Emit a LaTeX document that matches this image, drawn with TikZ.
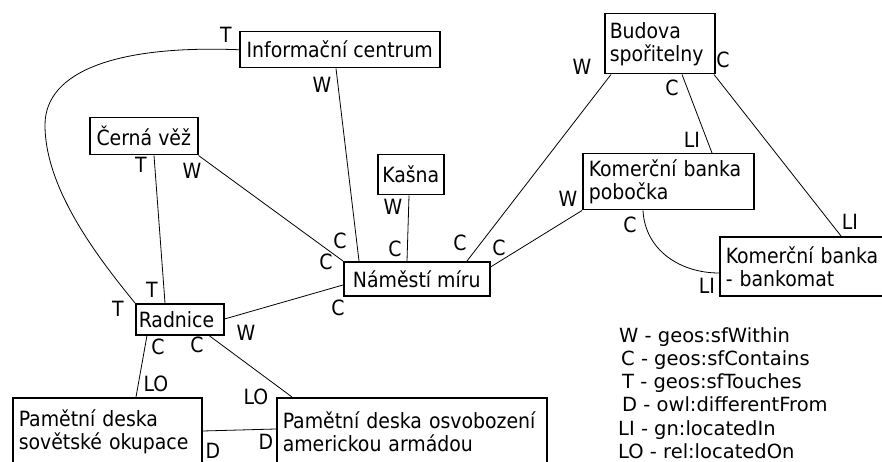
\documentclass[tikz,border=0pt]{standalone}
\usepackage{fontspec}
\setmainfont{DejaVu Sans Condensed}
\newfontfamily\keyfont{DejaVu Sans}
\begin{document}
\begin{tikzpicture}[x=1pt,y=-1pt,
  every node/.style={font=\fontsize{21}{23}\selectfont},
  box/.style={draw, line width=1.5pt, rectangle, anchor=north west, inner xsep=6pt, inner ysep=0pt},
  mbox/.style={box, align=left},
  lbl/.style={inner sep=0pt},
  legend/.style={inner sep=0pt, anchor=base west, font=\keyfont\fontsize{19.5}{23}\selectfont},
  link/.style={line width=0.8pt}]
\useasboundingbox (0,0) rectangle (882,462);

% places and objects
\node[box, minimum width=200pt, minimum height=36pt] (info) at (239,31) {Informační centrum};
\node[box, minimum width=108pt, minimum height=37pt] (cerna) at (89,117) {Černá věž};
\node[box, minimum width=66pt, minimum height=40pt, inner xsep=2pt] (kasna) at (377,154) {Kašna};
\node[box, minimum width=146pt, minimum height=34pt] (namesti) at (343,261) {Náměstí míru};
\node[mbox, text width=82pt, inner xsep=3pt, minimum height=31pt] (radnice) at (135,303) {Radnice};
\node[mbox, text width=177pt, minimum height=68pt] (sovet) at (12,397) {Pamětní deska\\sovětské okupace};
\node[mbox, text width=258pt, minimum height=68pt] (osvob) at (276,397) {Pamětní deska osvobození\\americkou armádou};
\node[mbox, text width=100pt, inner xsep=5pt, minimum height=60pt] (budova) at (604,13) {Budova\\spořitelny};
\node[mbox, text width=159pt, minimum height=56pt] (pobocka) at (582,153) {Komerční banka\\pobočka};
\node[mbox, text width=153pt, minimum height=59pt] (bankomat) at (719,236) {Komerční banka\\- bankomat};

% relations
\draw[link] ([xshift=97pt]info.south west) -- ([xshift=16pt]namesti.north west);
\draw[link] (cerna.south east) -- (namesti.north west);
\draw[link] ([xshift=65pt]cerna.south west) -- ([xshift=30pt]radnice.north west);
\draw[link] ([xshift=32pt]kasna.south west) -- ([xshift=64pt]namesti.north west);
\draw[link] ([xshift=124pt]namesti.north west) -- ([xshift=7pt]budova.south west);
\draw[link] ([yshift=-6pt]namesti.north east) -- (pobocka.south west);
\draw[link] ([yshift=-24pt]namesti.north west) -- ([yshift=-16pt]radnice.north east);
\draw[link] (info.west) .. controls (120,45) and (45,70) .. (45,125)
  .. controls (45,190) and (100,260) .. (radnice.north west);
\draw[link] ([xshift=12pt]radnice.south west) -- ([xshift=124pt]sovet.north west);
\draw[link] ([xshift=74pt]radnice.south west) -- ([xshift=16pt]osvob.north west);
\draw[link] ([yshift=-34pt]sovet.north east) -- ([yshift=-32pt]osvob.north west);
\draw[link] ([xshift=78pt]budova.south west) -- ([xshift=130pt]pobocka.north west);
\draw[link] ([xshift=110pt]budova.south west) -- ([xshift=122pt]bankomat.north west);
\draw[link] ([xshift=61pt]pobocka.south west) .. controls (645,250) and (680,273) .. ([yshift=-37pt]bankomat.north west);

% relation labels
\node[lbl] (l1) at (226,35) {T};
\node[lbl] (l2) at (322,85) {W};
\node[lbl] (l3) at (141,165) {T};
\node[lbl] (l4) at (192,171) {W};
\node[lbl] (l5) at (393,207) {W};
\node[lbl] (l6) at (340,241) {C};
\node[lbl] (l7) at (326,262) {C};
\node[lbl] (l8) at (395,249) {C};
\node[lbl] (l9) at (460,243) {C};
\node[lbl] (l10) at (499,248) {C};
\node[lbl] (l11) at (338,308) {C};
\node[lbl] (l12) at (152,290) {T};
\node[lbl] (l13) at (118,309) {T};
\node[lbl] (l14) at (246,333) {W};
\node[lbl] (l15) at (158,347) {C};
\node[lbl] (l16) at (197,345) {C};
\node[lbl] (l17) at (156,384) {LO};
\node[lbl] (l18) at (256,397) {LO};
\node[lbl] (l19) at (213,451) {D};
\node[lbl] (l20) at (266,442) {D};
\node[lbl] (l21) at (582,67) {W};
\node[lbl] (l22) at (723,60) {C};
\node[lbl] (l23) at (672,88) {C};
\node[lbl] (l24) at (692,140) {LI};
\node[lbl] (l25) at (568,199) {W};
\node[lbl] (l26) at (630,225) {C};
\node[lbl] (l27) at (850,222) {LI};
\node[lbl] (l28) at (707,286) {LI};

% legend (baselines)
\node[legend] (k1) at (619,342) {W - geos:sfWithin};
\node[legend] (k2) at (621,365) {C - geos:sfContains};
\node[legend] (k3) at (622,388) {T - geos:sfTouches};
\node[legend] (k4) at (622,411) {D - owl:differentFrom};
\node[legend] (k5) at (618,435) {LI - gn:locatedIn};
\node[legend] (k6) at (618,458) {LO - rel:locatedOn};
\end{tikzpicture}
\end{document}
